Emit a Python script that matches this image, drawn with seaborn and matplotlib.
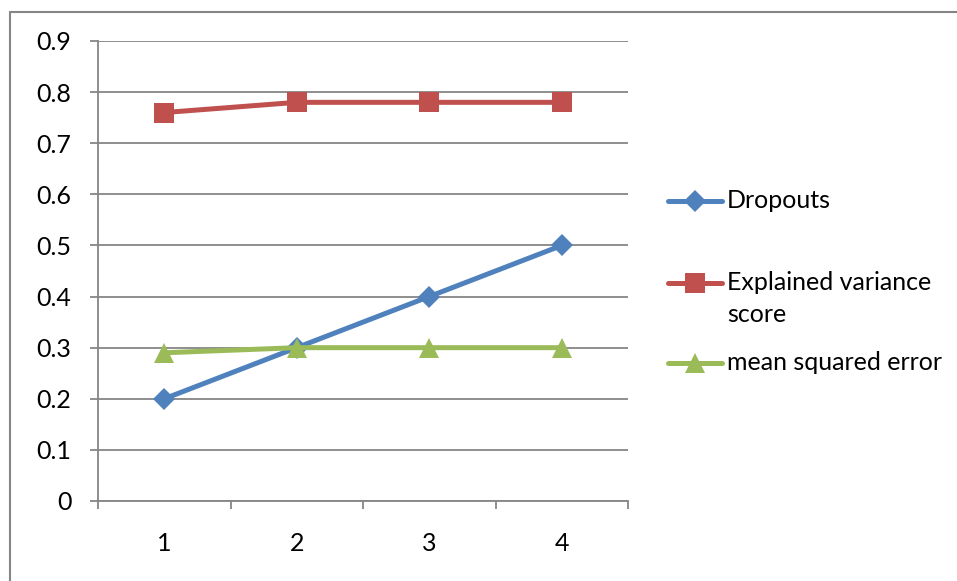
import matplotlib
matplotlib.use("Agg")
import matplotlib.pyplot as plt
from matplotlib.lines import Line2D
import seaborn as sns
import pandas as pd

runs = [1, 2, 3, 4]
dropouts = [0.2, 0.3, 0.4, 0.5]
explained_variance = [0.76, 0.78, 0.78, 0.78]
mean_squared_error = [0.29, 0.30, 0.30, 0.30]

y_ticks = [0, 0.1, 0.2, 0.3, 0.4, 0.5, 0.6, 0.7, 0.8, 0.9]
y_tick_labels = ["0", "0.1", "0.2", "0.3", "0.4", "0.5", "0.6", "0.7", "0.8", "0.9"]

series = [
    (["Dropouts"], dropouts, "#4F81BD", "D", 11),
    (["Explained variance", "score"], explained_variance, "#C0504D", "s", 14),
    (["mean squared error"], mean_squared_error, "#9BBB59", "^", 14),
]

sns.set_theme(style="white")
plt.rcParams["font.family"] = ["Lato", "DejaVu Sans"]
grid_col = "#868686"
fs = 18

fig = plt.figure(figsize=(9.57, 5.81), dpi=100)
ax = fig.add_axes([98 / 957, 1 - 501 / 581, 530 / 957, 460 / 581])

for names, vals, col, mk, ms in series:
    df = pd.DataFrame({"run": runs, "value": vals})
    sns.lineplot(data=df, x="run", y="value", ax=ax, color=col, linewidth=3.6,
                 marker=mk, markersize=ms, markeredgewidth=0, zorder=3, clip_on=False)

ax.set_xlim(0.5, 4.5)
ax.set_ylim(0, 0.9)
ax.set_yticks(y_ticks)
ax.set_yticklabels(y_tick_labels)
ax.set_xticks(runs)
ax.set_xticklabels([str(r) for r in runs])
ax.set_xlabel("")
ax.set_ylabel("")

# horizontal gridlines only
ax.yaxis.grid(True, color=grid_col, linewidth=1.3)
ax.xaxis.grid(False)
ax.set_axisbelow(True)

for side in ["top", "right"]:
    ax.spines[side].set_visible(False)
for side in ["left", "bottom"]:
    ax.spines[side].set_color(grid_col)
    ax.spines[side].set_linewidth(1.3)

# category axis: ticks at category boundaries, labels centered
ax.set_xticks([0.5, 1.5, 2.5, 3.5, 4.5], minor=True)
ax.tick_params(axis="x", which="major", bottom=True, length=0, pad=22, labelsize=fs, labelcolor="black")
ax.tick_params(axis="x", which="minor", bottom=True, length=6, width=1.3, color=grid_col, direction="out")
ax.tick_params(axis="y", which="major", left=True, length=6, width=1.3, color=grid_col, direction="out",
               pad=13, labelsize=fs, labelcolor="black")

# chart frame (top and left edges)
fig.add_artist(Line2D([10 / 957, 1.0], [1 - 12 / 581, 1 - 12 / 581], color=grid_col, linewidth=1.5))
fig.add_artist(Line2D([10 / 957, 10 / 957], [0, 1 - 12 / 581], color=grid_col, linewidth=1.5))

# legend
leg_y = [201, 283, 363]
for (names, vals, col, mk, ms), y in zip(series, leg_y):
    yf = 1 - y / 581
    fig.add_artist(Line2D([668 / 957, 722 / 957], [yf, yf], color=col, linewidth=3.6))
    fig.add_artist(Line2D([695 / 957], [yf], color=col, marker=mk, markersize=ms,
                          markeredgewidth=0, linestyle="none"))
    for i, line in enumerate(names):
        fig.text(727 / 957, 1 - (y + 32 * i) / 581, line, fontsize=fs, va="center",
                 ha="left", color="black")

fig.savefig("out.png", dpi=100, facecolor="white")
